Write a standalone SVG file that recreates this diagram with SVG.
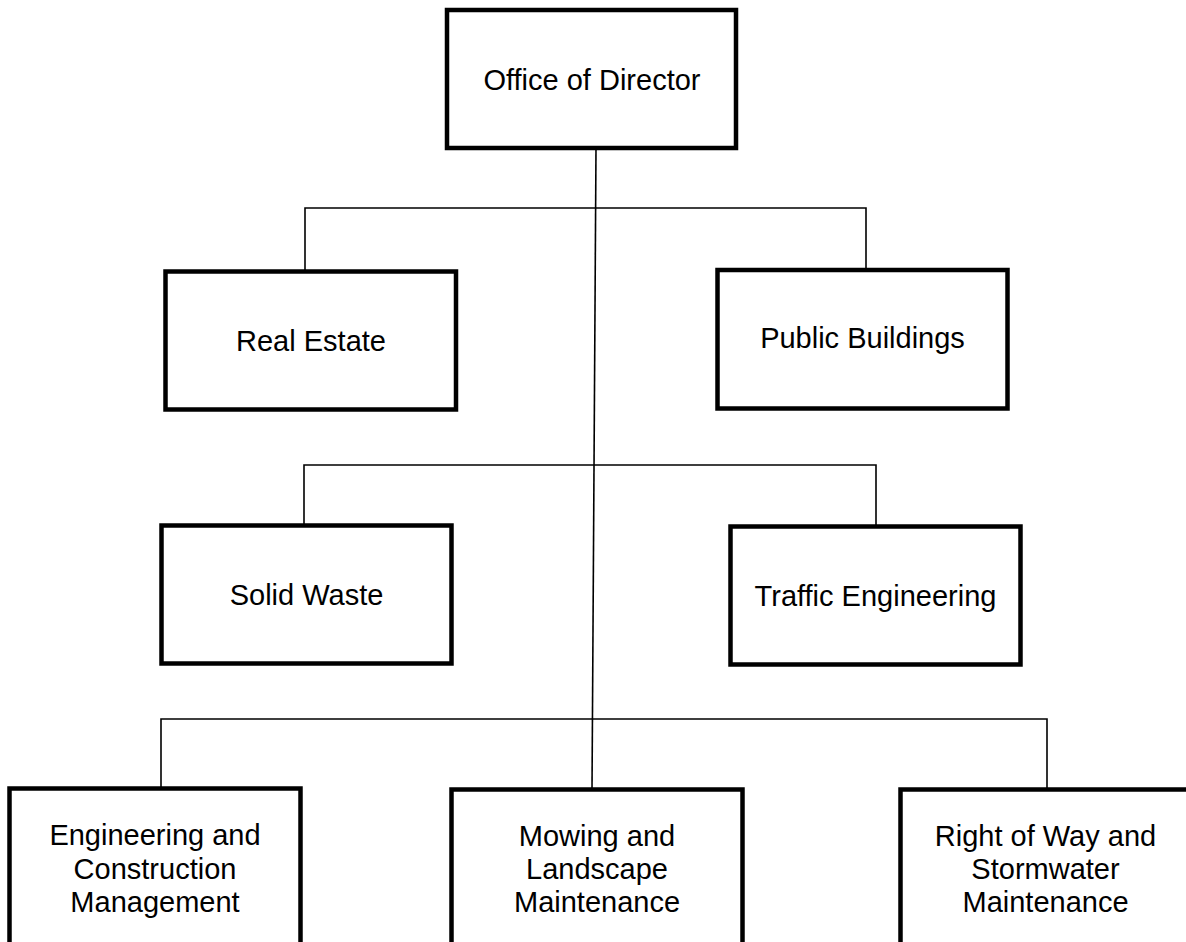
<svg xmlns="http://www.w3.org/2000/svg" width="1186" height="942" viewBox="0 0 1186 942">
<style>
.box{fill:#fff;stroke:#000;stroke-width:4.5}
.lbl{font-family:"Liberation Sans",Arial,sans-serif;font-size:29px;fill:#000;text-anchor:middle}
.con{fill:none;stroke:#000;stroke-width:1.6}
</style>
<rect width="1186" height="942" fill="#fff"/>
<g id="connectors">
<path class="con" d="M596,148 L592,790"/>
<path class="con" d="M305,272 V208 H866 V270"/>
<path class="con" d="M304,526 V465 H876 V527"/>
<path class="con" d="M161,789 V719 H1047 V790"/>
</g>
<g id="office-of-director">
<rect class="box" x="447" y="10" width="289" height="138"/>
<text class="lbl" x="592" y="90">Office of Director</text>
</g>
<g id="real-estate">
<rect class="box" x="165.5" y="271.5" width="290.5" height="138"/>
<text class="lbl" x="311" y="351">Real Estate</text>
</g>
<g id="public-buildings">
<rect class="box" x="717.5" y="270" width="290" height="138.5"/>
<text class="lbl" x="862.5" y="348">Public Buildings</text>
</g>
<g id="solid-waste">
<rect class="box" x="161.5" y="525.5" width="290" height="138"/>
<text class="lbl" x="306.5" y="605">Solid Waste</text>
</g>
<g id="traffic-engineering">
<rect class="box" x="730.5" y="526.5" width="290" height="138"/>
<text class="lbl" x="875.5" y="606">Traffic Engineering</text>
</g>
<g id="engineering-construction">
<rect class="box" x="9.5" y="788.5" width="291" height="200"/>
<text class="lbl" x="155" y="845">Engineering and</text>
<text class="lbl" x="155" y="878.5">Construction</text>
<text class="lbl" x="155" y="912">Management</text>
</g>
<g id="mowing-landscape">
<rect class="box" x="451.5" y="789.5" width="291" height="200"/>
<text class="lbl" x="597" y="845.5">Mowing and</text>
<text class="lbl" x="597" y="879">Landscape</text>
<text class="lbl" x="597" y="912">Maintenance</text>
</g>
<g id="right-of-way">
<rect class="box" x="900.5" y="789.5" width="290" height="200"/>
<text class="lbl" x="1045.5" y="845.5">Right of Way and</text>
<text class="lbl" x="1045.5" y="879">Stormwater</text>
<text class="lbl" x="1045.5" y="912">Maintenance</text>
</g>
</svg>
